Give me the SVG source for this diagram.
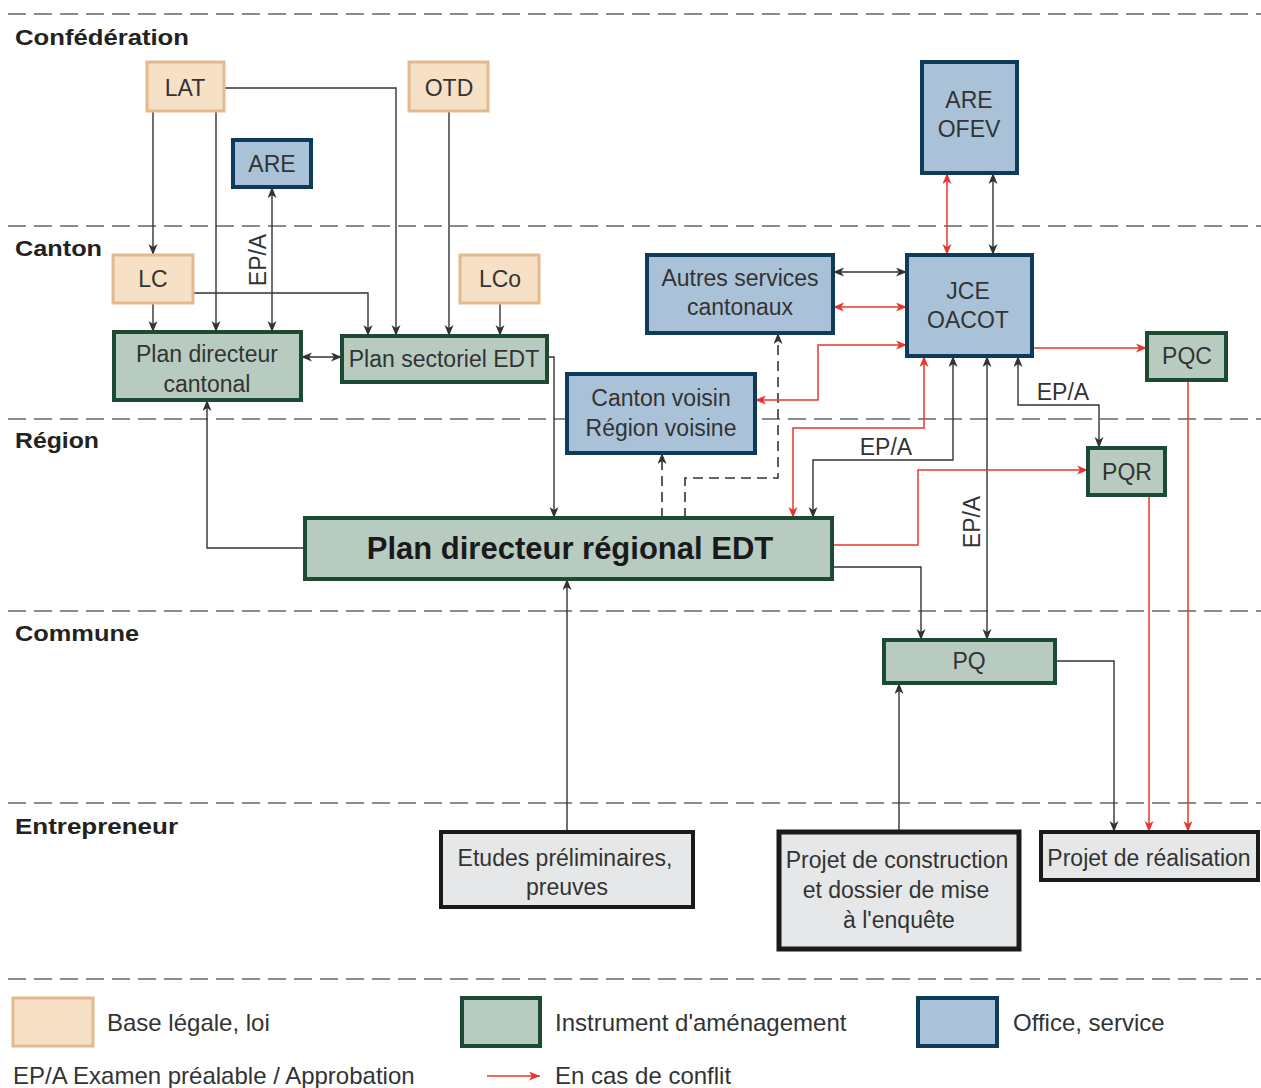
<svg xmlns="http://www.w3.org/2000/svg" width="1261" height="1088" viewBox="0 0 1261 1088">
<style>
text{font-family:"Liberation Sans",Arial,sans-serif;fill:#333}
.t{font-size:23px;text-anchor:middle}
.sec{font-size:22px;font-weight:bold;fill:#222}
.leg{font-size:24px}
.law{fill:#f6e0c6;stroke:#e3ba8c;stroke-width:3}
.ins{fill:#b8cbc0;stroke:#1d4a33;stroke-width:4}
.off{fill:#a9c2d8;stroke:#0f3a5a;stroke-width:4}
.ent{fill:#e6e7e8;stroke:#1a1a1a;stroke-width:4}
.sep{stroke:#666;stroke-width:1.6;stroke-dasharray:18 8;fill:none}
.c{fill:none;stroke:#333;stroke-width:1.4}
.d{fill:none;stroke:#333;stroke-width:1.6;stroke-dasharray:10 6}
.r{fill:none;stroke:#e8372a;stroke-width:1.5}
</style>
<defs>
<marker id="ab" markerUnits="userSpaceOnUse" markerWidth="12" markerHeight="10" refX="11" refY="4.5" orient="auto-start-reverse"><path d="M0,0 L11,4.5 L0,9 L3,4.5 z" fill="#333"/></marker>
<marker id="ar" markerUnits="userSpaceOnUse" markerWidth="12" markerHeight="10" refX="11" refY="4.5" orient="auto-start-reverse"><path d="M0,0 L11,4.5 L0,9 L3,4.5 z" fill="#e8372a"/></marker>
</defs>
<rect width="1261" height="1088" fill="#fff"/>
<g id="separators">
<path class="sep" d="M8,14H1261M8,226H1261M8,419H1261M8,611H1261M8,803H1261M8,979H1261"/>
</g>
<g id="sections">
<text class="sec" x="15" y="45" textLength="174" lengthAdjust="spacingAndGlyphs">Confédération</text>
<text class="sec" x="15" y="256" textLength="87" lengthAdjust="spacingAndGlyphs">Canton</text>
<text class="sec" x="15" y="448" textLength="84" lengthAdjust="spacingAndGlyphs">Région</text>
<text class="sec" x="15" y="641" textLength="124" lengthAdjust="spacingAndGlyphs">Commune</text>
<text class="sec" x="15" y="834" textLength="163" lengthAdjust="spacingAndGlyphs">Entrepreneur</text>
</g>
<g id="connectors">
<path class="c" d="M153,111V255" marker-end="url(#ab)"/>
<path class="c" d="M216,111V332" marker-end="url(#ab)"/>
<path class="c" d="M224,88H396V336" marker-end="url(#ab)"/>
<path class="c" d="M449,111V336" marker-end="url(#ab)"/>
<path class="c" d="M153,303V332" marker-end="url(#ab)"/>
<path class="c" d="M193,293H368V336" marker-end="url(#ab)"/>
<path class="c" d="M500,303V336" marker-end="url(#ab)"/>
<path class="c" d="M272,187V332" marker-start="url(#ab)" marker-end="url(#ab)"/>
<path class="c" d="M301,357H342" marker-start="url(#ab)" marker-end="url(#ab)"/>
<path class="c" d="M547,357H554V518" marker-end="url(#ab)"/>
<path class="c" d="M305,548H207V400" marker-end="url(#ab)"/>
<path class="c" d="M567,832V579" marker-end="url(#ab)"/>
<path class="c" d="M899,832V683" marker-end="url(#ab)"/>
<path class="c" d="M1055,661H1114V832" marker-end="url(#ab)"/>
<path class="c" d="M832,567H921V640" marker-end="url(#ab)"/>
<path class="c" d="M987,356V640" marker-start="url(#ab)" marker-end="url(#ab)"/>
<path class="c" d="M813,518V460H953V356" marker-start="url(#ab)" marker-end="url(#ab)"/>
<path class="c" d="M1018,356V405H1099V448" marker-start="url(#ab)" marker-end="url(#ab)"/>
<path class="c" d="M993,173V255" marker-start="url(#ab)" marker-end="url(#ab)"/>
<path class="c" d="M833,272H907" marker-start="url(#ab)" marker-end="url(#ab)"/>
<path class="d" d="M662,518V453" marker-end="url(#ab)"/>
<path class="d" d="M685,518V478H778V333" marker-end="url(#ab)"/>
<path class="r" d="M947,173V255" marker-start="url(#ar)" marker-end="url(#ar)"/>
<path class="r" d="M833,307H907" marker-start="url(#ar)" marker-end="url(#ar)"/>
<path class="r" d="M755,400H818V345H907" marker-start="url(#ar)" marker-end="url(#ar)"/>
<path class="r" d="M793,518V428H924V356" marker-start="url(#ar)" marker-end="url(#ar)"/>
<path class="r" d="M1032,348H1147" marker-end="url(#ar)"/>
<path class="r" d="M832,545H918V470H1088" marker-end="url(#ar)"/>
<path class="r" d="M1149,495V832" marker-end="url(#ar)"/>
<path class="r" d="M1188,380V832" marker-end="url(#ar)"/>
<text class="t" transform="translate(266,260) rotate(-90)">EP/A</text>
<text class="t" transform="translate(980,522) rotate(-90)">EP/A</text>
<text class="t" x="886" y="455">EP/A</text>
<text class="t" x="1063" y="400">EP/A</text>
</g>
<g id="LAT"><rect class="law" x="147" y="62" width="77" height="49"/><text class="t" x="185" y="96">LAT</text></g>
<g id="OTD"><rect class="law" x="409" y="62" width="79" height="49"/><text class="t" x="449" y="96">OTD</text></g>
<g id="ARE"><rect class="off" x="233" y="140" width="78" height="47"/><text class="t" x="272" y="172">ARE</text></g>
<g id="LC"><rect class="law" x="113" y="255" width="80" height="48"/><text class="t" x="153" y="287">LC</text></g>
<g id="LCo"><rect class="law" x="460" y="255" width="79" height="48"/><text class="t" x="500" y="287">LCo</text></g>
<g id="PDC"><rect class="ins" x="114" y="332" width="187" height="68"/><text class="t" x="207" y="362">Plan directeur</text><text class="t" x="207" y="392">cantonal</text></g>
<g id="PSE"><rect class="ins" x="342" y="336" width="205" height="46"/><text class="t" x="444" y="367">Plan sectoriel EDT</text></g>
<g id="Autres"><rect class="off" x="647" y="255" width="186" height="78"/><text class="t" x="740" y="286">Autres services</text><text class="t" x="740" y="315">cantonaux</text></g>
<g id="JCE"><rect class="off" x="907" y="255" width="125" height="101"/><text class="t" x="968" y="299">JCE</text><text class="t" x="968" y="328">OACOT</text></g>
<g id="AREOFEV"><rect class="off" x="922" y="62" width="95" height="111"/><text class="t" x="969" y="108">ARE</text><text class="t" x="969" y="137">OFEV</text></g>
<g id="PQC"><rect class="ins" x="1147" y="333" width="79" height="47"/><text class="t" x="1187" y="364">PQC</text></g>
<g id="CV"><rect class="off" x="567" y="374" width="188" height="79"/><text class="t" x="661" y="406">Canton voisin</text><text class="t" x="661" y="436">Région voisine</text></g>
<g id="PQR"><rect class="ins" x="1088" y="448" width="77" height="47"/><text class="t" x="1127" y="480">PQR</text></g>
<g id="PDR"><rect class="ins" x="305" y="518" width="527" height="61"/><text x="570" y="559" style="font-size:31px;font-weight:bold;text-anchor:middle;fill:#1a1a1a">Plan directeur régional EDT</text></g>
<g id="PQ"><rect class="ins" x="884" y="640" width="171" height="43"/><text class="t" x="969" y="669">PQ</text></g>
<g id="Etudes"><rect class="ent" x="441" y="832" width="252" height="75"/><text class="t" x="565" y="866">Etudes préliminaires,</text><text class="t" x="567" y="895">preuves</text></g>
<g id="Construction"><rect class="ent" x="779" y="832" width="240" height="117" style="stroke-width:5"/><text class="t" x="897" y="868">Projet de construction</text><text class="t" x="896" y="898">et dossier de mise</text><text class="t" x="899" y="928">à l'enquête</text></g>
<g id="Realisation"><rect class="ent" x="1041" y="832" width="217" height="48"/><text class="t" x="1149" y="866">Projet de réalisation</text></g>
<g id="legend">
<rect class="law" x="13" y="998" width="80" height="48"/><text class="leg" x="107" y="1031">Base légale, loi</text>
<rect class="ins" x="462" y="998" width="78" height="48"/><text class="leg" x="555" y="1031">Instrument d'aménagement</text>
<rect class="off" x="918" y="998" width="79" height="48"/><text class="leg" x="1013" y="1031">Office, service</text>
<text class="leg" x="13" y="1084">EP/A Examen préalable / Approbation</text>
<path class="r" d="M487,1076H540" marker-end="url(#ar)"/>
<text class="leg" x="555" y="1084">En cas de conflit</text>
</g>
</svg>
